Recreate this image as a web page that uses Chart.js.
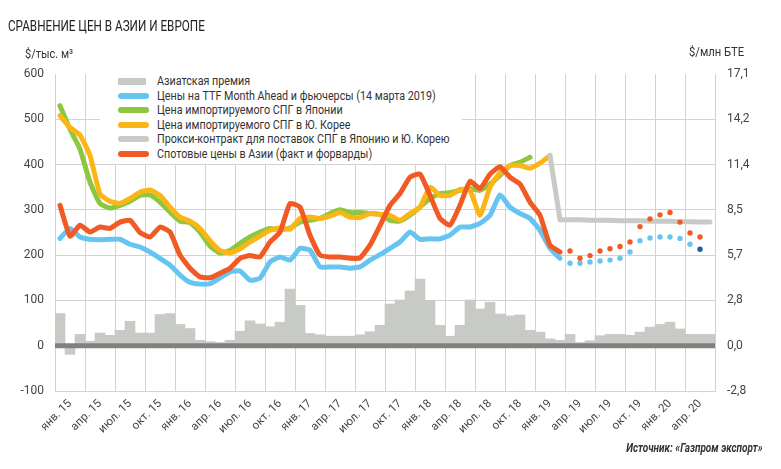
<!DOCTYPE html>
<html>
<head>
<meta charset="utf-8">
<script src="https://cdn.jsdelivr.net/npm/chart.js@4/dist/chart.umd.min.js"></script>
<style>
  body { margin: 0; background: #fff; font-family: Roboto, "Noto Sans", sans-serif; color: #333; }
  #wrap { position: relative; width: 781px; height: 469px; overflow: hidden; }
  .sq { display: inline-block; white-space: nowrap; transform-origin: left center; }
  #title { position: absolute; left: 8px; top: 17px; font-size: 15px; color: #222; transform: scaleX(0.78); }
  #unitL { position: absolute; left: 25px; top: 46px; font-size: 12.5px; color: #333; transform: scaleX(0.88); }
  #unitR { position: absolute; left: 689px; top: 44px; font-size: 12.5px; color: #333; transform: scaleX(0.9); }
  #source { position: absolute; right: 18px; top: 440px; font-size: 12.5px; font-style: italic; font-weight: bold; color: #333; transform: scaleX(0.8); transform-origin: right center; }
  #legend { position: absolute; left: 100px; top: 72px; width: 362px; height: 92px; background: #fff; padding: 2px 0 0 18px; box-sizing: border-box; }
  .row { height: 14.5px; line-height: 14.5px; font-size: 12.5px; color: #333; white-space: nowrap; display: flex; align-items: center; }
  .row .sq { transform: scaleX(0.86); }
  .sw { display: inline-block; flex-shrink: 0; width: 31px; height: 6px; border-radius: 3px; margin-right: 8px; }
  .sw.bar { border-radius: 0; width: 28px; height: 7px; margin-right: 11px; }
</style>
</head>
<body>
<div id="wrap">
  <canvas id="chart" width="781" height="469"></canvas>
  <div id="title" class="sq">СРАВНЕНИЕ ЦЕН В АЗИИ И ЕВРОПЕ</div>
  <div id="unitL" class="sq">$/тыс. м³</div>
  <div id="unitR" class="sq">$/млн БТЕ</div>
  <div id="legend">
    <div class="row"><span class="sw bar" style="background:#c8cac5"></span><span class="sq">Азиатская премия</span></div>
    <div class="row"><span class="sw" style="background:#66c5f0"></span><span class="sq">Цены на TTF Month Ahead и фьючерсы (14 марта 2019)</span></div>
    <div class="row"><span class="sw" style="background:#8dc63f"></span><span class="sq">Цена импортируемого СПГ в Японии</span></div>
    <div class="row"><span class="sw" style="background:#fbb616"></span><span class="sq">Цена импортируемого СПГ в Ю. Корее</span></div>
    <div class="row"><span class="sw" style="background:#c8cac5"></span><span class="sq">Прокси-контракт для поставок СПГ в Японию и Ю. Корею</span></div>
    <div class="row"><span class="sw" style="background:#f15a24"></span><span class="sq">Спотовые цены в Азии (факт и форварды)</span></div>
  </div>
  <div id="source" class="sq">Источник: «Газпром экспорт»</div>
</div>
<script>
// месяцы янв. 15 – июн. 20
const monthNames = ['янв.', 'фев.', 'мар.', 'апр.', 'мая', 'июн.', 'июл.', 'авг.', 'сен.', 'окт.', 'ноя.', 'дек.'];
const months = [];
for (let y = 15; y <= 20; y++) monthNames.forEach(m => months.push(m + ' ' + y));
months.length = 66;

const quarterLabels = ['янв. 15', 'апр. 15', 'июл. 15', 'окт. 15', 'янв. 16', 'апр. 16', 'июл. 16', 'окт. 16',
  'янв. 17', 'апр. 17', 'июл. 17', 'окт. 17', 'янв. 18', 'апр. 18', 'июл. 18', 'окт. 18',
  'янв. 19', 'апр. 19', 'июл. 19', 'окт. 19', 'янв. 20', 'апр. 20'];
const rightTicks = { '600': '17,1', '500': '14,2', '400': '11,4', '300': '8,5', '200': '5,7', '100': '2,8', '0': '0,0', '-100': '-2,8' };

// $/тыс. м3
const premium = [71, -19, 25, 10, 28, 23, 34, 54, 28, 28, 69, 71, 47, 38, 12, 9, 7, 12, 32, 55, 48, 42, 52, 125,
  89, 27, 24, 21, 21, 21, 24, 31, 45, 92, 101, 121, 147, 100, 45, 21, 45, 101, 81, 96, 70, 66, 68, 34,
  30, 15, 12, 25, 7, 11, 22, 25, 25, 23, 30, 41, 47, 52, 37, 25, 25, 25];
const ttf = [237, 259, 240, 235, 234, 235, 235, 224, 218, 207, 193, 178, 156, 140, 136, 137, 150, 163, 165, 145,
  149, 185, 196, 189, 215, 211, 174, 174, 174, 171, 174, 189, 201, 215, 229, 251, 235, 236, 236, 244,
  262, 262, 270, 288, 333, 306, 292, 281, 255, 215, 193];
const ttfForward = [182, 182, 185, 187, 189, 193, 207, 232, 238, 240, 240, 237, 224, 213];
const japan = [530, 478, 434, 361, 314, 304, 310, 319, 332, 333, 317, 295, 275, 272, 251, 220, 205, 210, 226, 240,
  251, 259, 256, 260, 273, 277, 281, 292, 300, 294, 294, 292, 290, 277, 275, 288, 306, 325, 336, 338,
  343, 347, 343, 357, 376, 398, 405, 416];
const korea = [508, 482, 465, 420, 335, 319, 314, 325, 339, 344, 332, 306, 284, 275, 259, 232, 210, 205, 214, 229,
  242, 255, 260, 257, 281, 284, 281, 286, 294, 284, 283, 292, 290, 288, 277, 292, 306, 350, 332, 332,
  345, 343, 288, 350, 382, 398, 398, 392, 403, 420];
const proxy = [420, 278, 278, 278, 277, 277, 277, 276, 276, 276, 275, 275, 275, 274, 274, 273, 273];
const spot = [310, 242, 266, 251, 262, 259, 273, 277, 250, 240, 262, 251, 200, 171, 152, 150, 160, 171, 193, 199,
  196, 229, 251, 314, 306, 244, 200, 196, 196, 193, 194, 222, 265, 310, 336, 372, 379, 332, 281, 266,
  310, 363, 347, 379, 395, 372, 357, 317, 288, 222, 207];
const spotForward = [209, 193, 199, 209, 214, 219, 229, 263, 280, 289, 294, 273, 249, 240];

const lead = n => Array(n).fill(null);

const lineStyle = {
  type: 'line', borderWidth: 5, pointRadius: 0, fill: false, tension: 0.15,
  borderJoinStyle: 'round', borderCapStyle: 'round', spanGaps: false
};
const dotStyle = { type: 'line', showLine: false, pointRadius: 2.7, pointBorderWidth: 0, pointHoverRadius: 3 };

const zeroLine = {
  id: 'zeroLine',
  afterDatasetsDraw(chart) {
    const { ctx, chartArea, scales } = chart;
    const y = scales.y.getPixelForValue(0);
    ctx.save();
    ctx.strokeStyle = '#808080';
    ctx.lineWidth = 5;
    ctx.beginPath();
    ctx.moveTo(chartArea.left, y);
    ctx.lineTo(chartArea.right, y);
    ctx.stroke();
    ctx.restore();
  }
};

const fontFam = 'Roboto, "Noto Sans", sans-serif';

new Chart(document.getElementById('chart'), {
  type: 'bar',
  data: {
    labels: months,
    datasets: [
      Object.assign({}, dotStyle, { data: lead(51).concat(spotForward), pointBackgroundColor: '#f15a24', order: 0 }),
      Object.assign({}, dotStyle, {
        data: lead(51).concat(ttfForward), order: 1,
        pointBackgroundColor: c => c.dataIndex === 64 ? '#1d5ea8' : '#66c5f0'
      }),
      Object.assign({}, lineStyle, { data: spot, borderColor: '#f15a24', order: 2 }),
      Object.assign({}, lineStyle, { data: lead(49).concat(proxy), borderColor: '#c8cac5', tension: 0, order: 3 }),
      Object.assign({}, lineStyle, { data: ttf, borderColor: '#66c5f0', order: 4 }),
      Object.assign({}, lineStyle, { data: korea, borderColor: '#fbb616', order: 5 }),
      Object.assign({}, lineStyle, { data: japan, borderColor: '#8dc63f', order: 6 }),
      { type: 'bar', data: premium, backgroundColor: '#c8cac5', barPercentage: 1, categoryPercentage: 1, order: 7 }
    ]
  },
  options: {
    responsive: false,
    animation: false,
    layout: { padding: { top: 74, left: 0, right: 0, bottom: 0 } },
    plugins: { legend: { display: false }, tooltip: { enabled: false } },
    scales: {
      x: {
        offset: true,
        grid: {
          offset: true,
          drawTicks: false,
          color: c => c.index % 3 === 0 ? '#d2d2d2' : 'rgba(0,0,0,0)'
        },
        border: { display: false },
        ticks: {
          autoSkip: false, minRotation: 45, maxRotation: 45, padding: 6,
          color: '#444', font: { family: fontFam, size: 11.5 },
          callback: (v, i) => i % 3 === 1 ? quarterLabels[(i - 1) / 3] : ''
        },
        afterFit: s => { s.height = 78; }
      },
      y: {
        min: -100, max: 600,
        grid: { drawTicks: false, color: c => c.tick.value === 600 ? 'rgba(0,0,0,0)' : '#d2d2d2' },
        border: { color: '#d2d2d2' },
        ticks: { stepSize: 100, padding: 11, color: '#444', font: { family: fontFam, size: 12 } },
        afterFit: s => { s.width = 55; }
      },
      y1: {
        position: 'right',
        min: -100, max: 600,
        grid: { drawOnChartArea: false, drawTicks: false },
        border: { color: '#d2d2d2' },
        ticks: {
          stepSize: 100, padding: 12, color: '#444', font: { family: fontFam, size: 12 },
          callback: v => rightTicks[String(v)]
        },
        afterFit: s => { s.width = 66; }
      }
    }
  },
  plugins: [zeroLine]
});
</script>
</body>
</html>
